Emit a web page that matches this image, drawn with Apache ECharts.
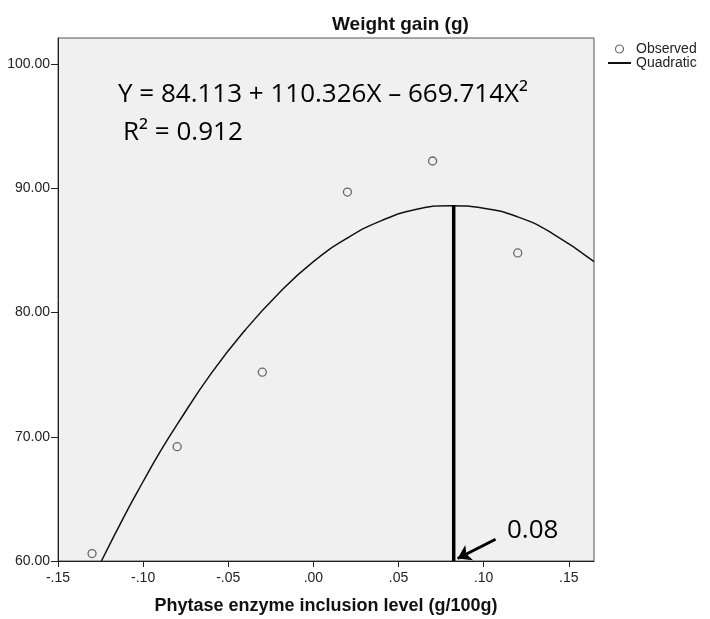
<!DOCTYPE html>
<html><head><meta charset="utf-8">
<script src="https://cdn.jsdelivr.net/npm/echarts@6/dist/echarts.min.js"></script>
<style>html,body{margin:0;padding:0;background:#fff}#c{width:710px;height:619px}</style>
</head><body><div id="c"></div>
<script>
// Observed points
const obsX = [-0.13, -0.08, -0.03, 0.02, 0.07, 0.12];
const obsY = [60.6, 69.2, 75.2, 89.7, 92.2, 84.8];
// Quadratic fit curve
const curveX = [-0.1245, -0.11, -0.10, -0.09, -0.08, -0.06, -0.04, -0.02, 0.00, 0.02, 0.04, 0.06, 0.08, 0.10, 0.12, 0.14, 0.1648];
const curveY = [60.0, 63.9, 66.4, 68.8, 71.0, 75.1, 78.6, 81.6, 84.1, 86.0, 87.4, 88.3, 88.6, 88.4, 87.7, 86.4, 84.1];
// Optimum marker
const optX = 0.0824;
const optY = 88.66;
// Arrow annotation (tail, tip)
const arrowTail = [0.107, 61.75];
const arrowTip = [0.0847, 60.2];
// Ticks
const xTicks = [-0.15, -0.10, -0.05, 0.00, 0.05, 0.10, 0.15];
const yTicks = [60, 70, 80, 90, 100];
const xRange = [-0.15, 0.1648];
const yRange = [60, 102.1];

const chart = echarts.init(document.getElementById('c'), null, {renderer: 'canvas'});
const fmtX = v => (v < -1e-9 ? '-' : '') + Math.abs(v).toFixed(2).replace(/^0/, '');
const SANS = 'Liberation Sans';
const option = {
  animation: false,
  backgroundColor: '#fff',
  title: {
    text: 'Weight gain (g)', left: 327, top: 10,
    textStyle: {fontFamily: SANS, fontSize: 19, fontWeight: 'bold', color: '#111'}
  },
  legend: {
    orient: 'vertical', left: 607, top: 42, itemWidth: 23, itemHeight: 8, itemGap: 0, padding: 0,
    textStyle: {fontFamily: SANS, fontSize: 14, color: '#222', lineHeight: 14},
    data: [
      {name: 'Observed', itemStyle: {color: '#fff', borderColor: '#444', borderWidth: 1.2}},
      {name: 'Quadratic', itemStyle: {color: 'transparent', borderColor: 'transparent', borderWidth: 0}}
    ]
  },
  grid: {
    left: 58, right: 116, top: 38, bottom: 58, show: true,
    outerBoundsMode: 'none', containLabel: false,
    backgroundColor: '#f0f0f0', borderColor: '#555', borderWidth: 1
  },
  xAxis: {
    type: 'value', min: xRange[0], max: xRange[1],
    name: 'Phytase enzyme inclusion level (g/100g)', nameLocation: 'middle', nameGap: 36,
    nameTextStyle: {fontFamily: SANS, fontSize: 18, fontWeight: 'bold', color: '#111'},
    axisLine: {onZero: false, lineStyle: {color: '#222', width: 1}},
    axisTick: {show: true, inside: false, length: 6, lineStyle: {color: '#222'}, customValues: xTicks},
    axisLabel: {customValues: xTicks, formatter: fmtX, fontFamily: SANS, fontSize: 14, color: '#222', margin: 10},
    splitLine: {show: false}
  },
  yAxis: {
    type: 'value', min: yRange[0], max: yRange[1],
    axisLine: {show: true, onZero: false, lineStyle: {color: '#222', width: 1}},
    axisTick: {show: true, inside: false, length: 7, lineStyle: {color: '#222'}, customValues: yTicks},
    axisLabel: {customValues: yTicks, formatter: v => v.toFixed(2), fontFamily: SANS, fontSize: 14, color: '#222', margin: 8},
    splitLine: {show: false}
  },
  series: [
    {
      name: 'Observed', type: 'scatter', symbol: 'circle', symbolSize: 8, z: 4,
      itemStyle: {color: '#f0f0f0', borderColor: '#444', borderWidth: 1.3},
      data: obsX.map((x, i) => [x, obsY[i]])
    },
    {
      name: 'Quadratic', type: 'line', smooth: true, symbol: 'none', z: 3,
      lineStyle: {color: '#111', width: 1.5}, itemStyle: {color: '#111'},
      data: curveX.map((x, i) => [x, curveY[i]])
    },
    {
      name: 'optimum', type: 'line', symbol: 'none', z: 5,
      lineStyle: {color: '#000', width: 3.5},
      data: [[optX, yRange[0]], [optX, optY]],
      markLine: {
        silent: true, symbol: ['none', 'arrow'], symbolSize: [13, 13],
        label: {show: false},
        lineStyle: {color: '#000', width: 3, type: 'solid'},
        data: [[{coord: arrowTail}, {coord: arrowTip}]]
      }
    }
  ],
  graphic: [
    {type: 'text', z: 10, style: {x: 118, y: 95, text: 'Y = 84.113 + 110.326X – 669.714X²', font: '26px "Open Sans"', fill: '#000', verticalAlign: 'middle'}},
    {type: 'text', z: 10, style: {x: 123, y: 133, text: 'R² = 0.912', font: '26px "Open Sans"', fill: '#000', verticalAlign: 'middle'}},
    {type: 'text', z: 10, style: {x: 507, y: 531, text: '0.08', font: '26px "Open Sans"', fill: '#000', verticalAlign: 'middle'}}
  ]
};
chart.setOption(option);
</script>
</body></html>
